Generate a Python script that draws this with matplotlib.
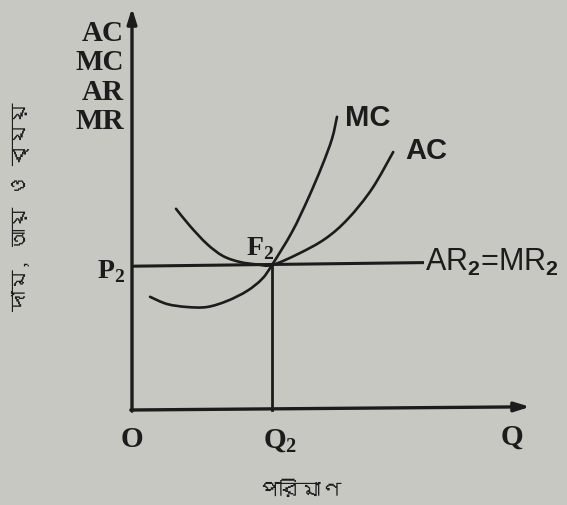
import matplotlib
matplotlib.use("Agg")
import matplotlib.pyplot as plt
from matplotlib import font_manager
from matplotlib.ft2font import FT2Font
from matplotlib.path import Path
from matplotlib.patches import PathPatch

# --- data (quantity q, price/cost c) ---
ac_q = [1.10, 1.45, 1.875, 2.275, 2.70, 3.125, 3.50, 4.15, 4.83, 5.40, 6.00, 6.53]
ac_c = [5.03, 4.60, 4.15, 3.85, 3.70, 3.64, 3.625, 3.90, 4.28, 4.78, 5.53, 6.45]
mc_q = [0.45, 0.875, 1.375, 1.875, 2.375, 2.875, 3.25, 3.50, 4.00, 4.40, 4.75, 5.00, 5.125]
mc_c = [2.83, 2.65, 2.575, 2.575, 2.725, 2.975, 3.275, 3.625, 4.45, 5.28, 6.10, 6.78, 7.33]
q2 = 3.5          # equilibrium quantity
p2 = 3.625        # price = AR = MR
ar_end = 7.3      # end of the AR line
q_max = 9.95
c_max = 10.05

y_labels = ["AC", "MC", "AR", "MR"]
ylabel_bn = "দাম, আয় ও ব্যয়"
xlabel_bn = "পরিমাণ"


def find_font(ch):
    for f in font_manager.fontManager.ttflist:
        try:
            if ord(ch) in FT2Font(f.fname).get_charmap():
                return f.name
        except Exception:
            pass
    return "DejaVu Sans"


bn_font = find_font("প")

plt.rcParams["mathtext.fontset"] = "custom"
plt.rcParams["mathtext.rm"] = "Liberation Serif"
plt.rcParams["mathtext.bf"] = "Liberation Serif:bold"
plt.rcParams["mathtext.sf"] = "Liberation Sans:bold"

ink = "#1c1c1c"
bg = "#c8c8c3"

fig = plt.figure(figsize=(5.67, 5.06), dpi=100, facecolor=bg)
ax = fig.add_axes([0, 0, 1, 1])
ax.set_facecolor(bg)
ax.set_xlim(-132 / 40, (567 - 132) / 40)
ax.set_ylim(-(506 - 411) / 40, 411 / 40)
ax.axis("off")


def smooth(xs, ys, **kw):
    """Draw a smooth curve through the given points (Catmull-Rom as Bezier)."""
    pts = list(zip(xs, ys))
    verts = [pts[0]]
    codes = [Path.MOVETO]
    n = len(pts)
    for i in range(n - 1):
        p0 = pts[i - 1] if i > 0 else pts[i]
        p1 = pts[i]
        p2_ = pts[i + 1]
        p3 = pts[i + 2] if i + 2 < n else pts[i + 1]
        c1 = (p1[0] + (p2_[0] - p0[0]) / 6, p1[1] + (p2_[1] - p0[1]) / 6)
        c2 = (p2_[0] - (p3[0] - p1[0]) / 6, p2_[1] - (p3[1] - p1[1]) / 6)
        verts += [c1, c2, p2_]
        codes += [Path.CURVE4] * 3
    ax.add_patch(PathPatch(Path(verts, codes), fill=False, capstyle="round", **kw))


# axes with arrows
ax.annotate("", xy=(0, c_max), xytext=(0, -0.03),
            arrowprops=dict(arrowstyle="-|>,head_length=0.9,head_width=0.28",
                            lw=2.4, color=ink, shrinkA=0, shrinkB=0))
ax.annotate("", xy=(q_max, 0.08), xytext=(-0.03, 0),
            arrowprops=dict(arrowstyle="-|>,head_length=0.9,head_width=0.28",
                            lw=2.4, color=ink, shrinkA=0, shrinkB=0))

# AR = MR line and Q2 drop line
ax.plot([0, ar_end], [p2 - 0.03, p2 + 0.06], color=ink, lw=2.2, solid_capstyle="butt")
ax.plot([q2, q2], [0, p2], color=ink, lw=2.0)

smooth(ac_q, ac_c, color=ink, lw=1.9)
smooth(mc_q, mc_c, color=ink, lw=1.9)

serif = dict(family="Liberation Serif", fontweight="bold", color=ink)
sans = dict(family="Liberation Sans", color=ink)

# y-axis stacked labels
for i, t in enumerate(y_labels):
    ax.text(-0.2, 9.45 - i * 0.74, t, ha="right", va="center", fontsize=21, **serif)

ax.text(-0.18, p2 - 0.15, "P$_\\mathbf{2}$", ha="right", va="center", fontsize=20, **serif)
ax.text(0.0, -0.72, "O", ha="center", va="center", fontsize=21, **serif)
ax.text(q2 + 0.2, -0.75, "Q$_\\mathbf{2}$", ha="center", va="center", fontsize=21, **serif)
ax.text(9.5, -0.65, "Q", ha="center", va="center", fontsize=21, **serif)
ax.text(3.2, 4.05, "F$_\\mathbf{2}$", ha="center", va="center", fontsize=20, **serif)

ax.text(mc_q[-1] + 0.2, mc_c[-1] + 0.0, "MC", ha="left", va="center",
        fontsize=21, fontweight="bold", **sans)
ax.text(ac_q[-1] + 0.3, ac_c[-1] + 0.05, "AC", ha="left", va="center",
        fontsize=21, fontweight="bold", **sans)
ax.text(ar_end + 0.02, p2 + 0.1, "AR$_\\mathsf{2}$=MR$_\\mathsf{2}$", ha="left", va="center",
        fontsize=22, **sans)

ax.text(-2.78, 5.1, ylabel_bn, rotation=90, ha="center", va="center",
        fontsize=15, family=[bn_font, "DejaVu Sans"], color=ink)
ax.text(4.2, -2.0, xlabel_bn, ha="center", va="center",
        fontsize=15, family=[bn_font, "DejaVu Sans"], color=ink)

fig.savefig("out.png", dpi=100, facecolor=bg)
